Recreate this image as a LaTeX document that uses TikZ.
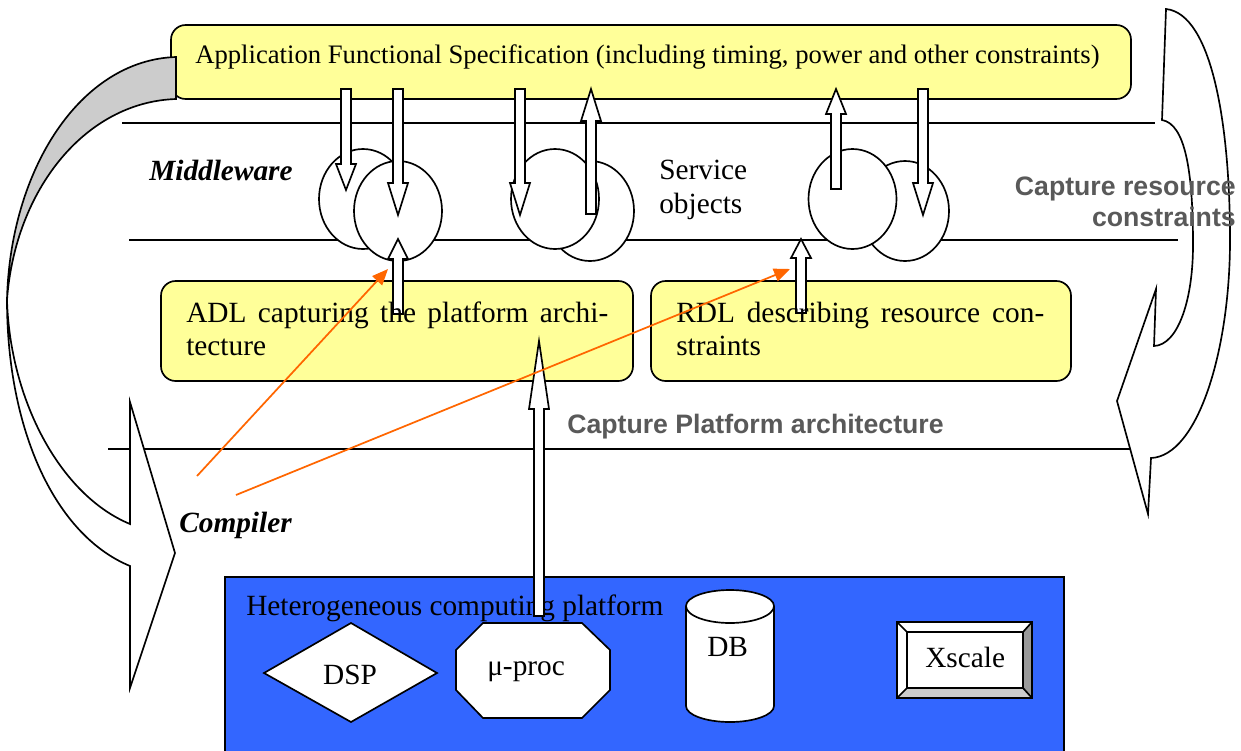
\documentclass[tikz,border=0pt]{standalone}
\usepackage{fontspec}
\setmainfont{Liberation Serif}
\newfontfamily\arialf{Liberation Sans}
\usetikzlibrary{calc,arrows.meta,shapes.geometric}
\definecolor{boxyellow}{HTML}{FFFF99}
\definecolor{platblue}{HTML}{3366FF}
\definecolor{capgrey}{HTML}{595959}
\definecolor{orangeln}{HTML}{FF6600}
\tikzset{
  ln/.style={draw=black,line width=1.25pt,line join=miter},
  ybox/.style={ln,fill=boxyellow,rounded corners=11pt},
  whitefill/.style={ln,fill=white},
  svc/.style={whitefill,ellipse,inner sep=0pt,minimum width=66pt,minimum height=75pt},
  orangearrow/.style={draw=orangeln,line width=1.3pt,-{Triangle[length=12pt,width=10pt,fill=orangeln]}},
  txt/.style={inner sep=0pt,anchor=base west,font=\fontsize{22pt}{24.75pt}\selectfont},
  apptxt/.style={txt,font=\fontsize{20pt}{24pt}\selectfont},
  bi/.style={txt,font=\fontsize{22pt}{24.75pt}\selectfont\bfseries\itshape},
  captxt/.style={inner sep=0pt,text=capgrey,font=\fontsize{20pt}{24pt}\selectfont\arialf\bfseries},
}
% block arrow: tail, tip, dir(+1 = pointing down, -1 = up), head length
\newcommand{\blockarrow}[4]{%
  \draw[whitefill] ($(#1)+(-5,0)$) -- ($(#2)+(-5,{-#3*#4})$) -- ($(#2)+(-10,{-#3*#4})$) -- (#2)
    -- ($(#2)+(10,{-#3*#4})$) -- ($(#2)+(5,{-#3*#4})$) -- ($(#1)+(5,0)$) -- cycle;}
\begin{document}
\begin{tikzpicture}[x=0.75pt,y=-0.75pt]
\useasboundingbox (0,0) rectangle (1241,750);
\fill[white] (0,0) rectangle (1241,750);
% horizontal lines
\coordinate (l1a) at (122,123); \coordinate (l1b) at (1155,123);
\coordinate (l2a) at (129,240); \coordinate (l2b) at (1178,240);
\coordinate (l3a) at (108,449); \coordinate (l3b) at (1130,449);
\draw[ln] (l1a) -- (l1b);
\draw[ln] (l2a) -- (l2b);
\draw[ln] (l3a) -- (l3b);
% curved arrow on the right
\draw[whitefill] (1166,9) .. controls (1212,14) and (1230,125) .. (1230,240)
  .. controls (1230,350) and (1198,456) .. (1151,458)
  -- (1148,514) -- (1117,401) -- (1156,289) -- (1154,346)
  .. controls (1178,345) and (1193,300) .. (1193,245)
  .. controls (1193,170) and (1185,124) .. (1162,120) -- cycle;
% boxes
\draw[ybox] (171,25) rectangle (1131,99);
\draw[ybox] (161,281) rectangle (633,381);
\draw[ybox] (651,281) rectangle (1071,381);
% curved arrow on the left
\draw[whitefill] (7,300) .. controls (7,430) and (55,535) .. (130,566)
  -- (130,688) -- (175,553) -- (130,402) -- (130,524)
  .. controls (60,495) and (10,400) .. (7,300) -- cycle;
\draw[ln,fill=black!20] (176,57) .. controls (80,60) and (10,170) .. (7,300)
  .. controls (15,190) and (85,102) .. (176,99) -- cycle;
% service objects
\node[svc] (e1) at (363,199) {};
\node[svc] (e4) at (590,211) {};
\node[svc] (e3) at (555,199) {};
\node[svc] (e6) at (905,211) {};
\node[svc] (e5) at (852.5,199) {};
% block arrows
\coordinate (a1s) at (346,89);  \coordinate (a1e) at (346,190);
\blockarrow{a1s}{a1e}{1}{26}
\node[svc] (e2) at (398,211) {};
\coordinate (a2s) at (398,89);  \coordinate (a2e) at (398,215);
\blockarrow{a2s}{a2e}{1}{32}
\coordinate (a3s) at (398,314); \coordinate (a3e) at (398,239);
\blockarrow{a3s}{a3e}{-1}{20}
\coordinate (a4s) at (520,89);  \coordinate (a4e) at (520,215);
\blockarrow{a4s}{a4e}{1}{32}
\coordinate (a5s) at (591,214); \coordinate (a5e) at (591,89);
\blockarrow{a5s}{a5e}{-1}{32}
\coordinate (a6s) at (836,189); \coordinate (a6e) at (836,89);
\blockarrow{a6s}{a6e}{-1}{25}
\coordinate (a7s) at (923,89);  \coordinate (a7e) at (923,215);
\blockarrow{a7s}{a7e}{1}{32}
\coordinate (a8s) at (801,313); \coordinate (a8e) at (801,239);
\blockarrow{a8s}{a8e}{-1}{19}
% platform
\draw[ln,fill=platblue] (225,577) rectangle (1064,760);
\node[txt] (plat) at (246,615) {Heterogeneous computing platform};
\coordinate (a9s) at (539,616); \coordinate (a9e) at (539,341);
\blockarrow{a9s}{a9e}{-1}{68}
% DSP
\draw[whitefill] (264,673) -- (351,623) -- (437,673) -- (351,722) -- cycle;
\node[txt,anchor=base] (dsp) at (350,684) {DSP};
% mu-proc
\draw[whitefill] (483,623) -- (582,623) -- (610,650) -- (610,690) -- (582,718) -- (483,718) -- (456,690) -- (456,650) -- cycle;
\node[txt] (mu) at (487,675) {μ-proc};
% DB
\draw[whitefill] (686,606) arc[start angle=180,end angle=360,x radius=44,y radius=16]
  -- (774,706) arc[start angle=0,end angle=180,x radius=44,y radius=16] -- cycle;
\draw[ln] (686,606) arc[start angle=180,end angle=0,x radius=44,y radius=17];
\node[txt] (db) at (707,656) {DB};
% Xscale
\fill[white] (897,622) rectangle (1032,698);
\fill[black!40] (1032,622) -- (1032,698) -- (1023,688) -- (1023,632) -- cycle;
\fill[black!20] (897,698) -- (1032,698) -- (1023,688) -- (907,688) -- cycle;
\draw[ln] (897,622) rectangle (1032,698);
\draw[ln] (907,632) rectangle (1023,688);
\draw[ln] (897,622) -- (907,632) (1032,622) -- (1023,632) (1032,698) -- (1023,688) (897,698) -- (907,688);
\node[txt] (xs) at (925,667) {Xscale};
% texts
\node[apptxt] (app) at (195,63) {Application Functional Specification (including timing, power and other constraints)};
\node[bi] (mid) at (149,180) {Middleware};
\node[txt] (so1) at (659,179) {Service};
\node[txt] (so2) at (659,213) {objects};
\node[txt,anchor=north west,text width=316.5pt,align=justify] (adl) at (186,302) {ADL capturing the platform archi-\linebreak tecture};
\node[txt,anchor=north west,text width=276pt,align=justify] (rdl) at (676,302) {RDL describing resource con-\linebreak straints};
\node[bi] (comp) at (179,532) {Compiler};
\node[captxt,anchor=base east,align=right] (cr1) at (1236,195) {Capture resource};
\node[captxt,anchor=base east,align=right] (cr2) at (1236,226) {constraints};
\node[captxt,anchor=base west] (cp) at (567,433) {Capture Platform architecture};
% orange arrows
\coordinate (o1s) at (197,476); \coordinate (o1e) at (388,269);
\coordinate (o2s) at (236,495); \coordinate (o2e) at (790,269);
\draw[orangearrow] (o1s) -- (o1e);
\draw[orangearrow] (o2s) -- (o2e);
\end{tikzpicture}
\end{document}
